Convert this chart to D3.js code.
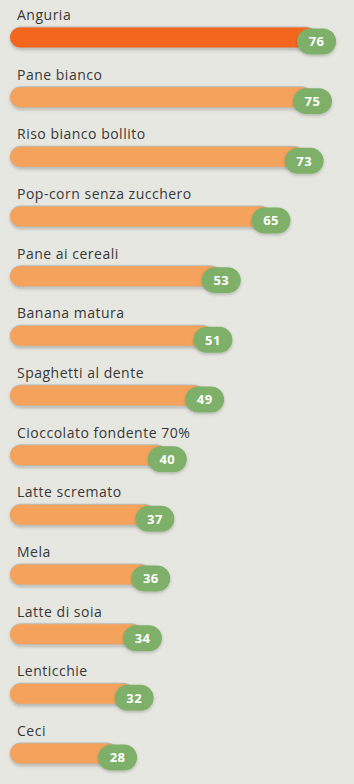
<!DOCTYPE html>
<html>
<head>
<meta charset="utf-8">
<script src="https://cdn.jsdelivr.net/npm/d3@7"></script>
<style>
  html, body { margin: 0; padding: 0; background: #e6e7e1; }
  svg { display: block; }
</style>
</head>
<body>
<div id="chart"></div>
<script>
// Indice glicemico degli alimenti
const foods = [
    "Anguria", "Pane bianco", "Riso bianco bollito", "Pop-corn senza zucchero",
    "Pane ai cereali", "Banana matura", "Spaghetti al dente", "Cioccolato fondente 70%",
    "Latte scremato", "Mela", "Latte di soia", "Lenticchie", "Ceci"
];
const values = [76, 75, 73, 65, 53, 51, 49, 40, 37, 36, 34, 32, 28];
const highlighted = ["Anguria"];

const width = 354;
const height = 784;
const rowStep = 59.67;

const svg = d3.select("#chart")
    .append("svg")
    .attr("width", width)
    .attr("height", height);

// soft shadow for bars and badges
const defs = svg.append("defs");
defs.append("filter")
    .attr("id", "shadow")
    .attr("x", "-20%").attr("y", "-50%")
    .attr("width", "140%").attr("height", "200%")
    .append("feDropShadow")
    .attr("dx", 0)
    .attr("dy", 1.5)
    .attr("stdDeviation", 1.5)
    .attr("flood-color", "#000")
    .attr("flood-opacity", 0.22);

const x = d3.scaleLinear()
    .domain([0, 100])
    .range([1.5, 416.1]);

const y = d3.scaleBand()
    .domain(foods)
    .range([0, foods.length * rowStep]);

const barLeft = 10;
const barH = 22;
const badgeW = 39;
const badgeH = 26;

const rows = svg.selectAll("g.row")
    .data(foods.map((f, i) => ({ food: f, value: values[i] })))
    .enter()
    .append("g")
    .attr("class", "row")
    .attr("transform", d => `translate(0, ${y(d.food)})`);

// labels
rows.append("text")
    .attr("x", 17)
    .attr("y", 20)
    .attr("fill", "#383838")
    .style("font-family", "'Open Sans', sans-serif")
    .style("font-size", "14px")
    .style("letter-spacing", "0.5px")
    .text(d => d.food);

// bar track (grey edge)
rows.append("rect")
    .attr("x", barLeft)
    .attr("y", 26.5)
    .attr("width", d => x(d.value) - barLeft)
    .attr("height", barH)
    .attr("rx", barH / 2)
    .attr("fill", "#babab2")
    .attr("filter", "url(#shadow)");

// bar fill
rows.append("rect")
    .attr("x", barLeft)
    .attr("y", 27.5)
    .attr("width", d => x(d.value) - barLeft)
    .attr("height", barH - 2)
    .attr("rx", (barH - 2) / 2)
    .attr("fill", d => highlighted.includes(d.food) ? "#f3661e" : "#f5a35c");

// value badge
rows.append("rect")
    .attr("x", d => x(d.value) - badgeW / 2)
    .attr("y", 28.5)
    .attr("width", badgeW)
    .attr("height", badgeH)
    .attr("rx", badgeH / 2)
    .attr("fill", "#7eb069")
    .attr("filter", "url(#shadow)");

rows.append("text")
    .attr("x", d => x(d.value))
    .attr("y", 28.5 + badgeH / 2)
    .attr("dy", "0.36em")
    .attr("text-anchor", "middle")
    .attr("fill", "#ffffff")
    .style("font-family", "'Open Sans', sans-serif")
    .style("font-weight", "bold")
    .style("font-size", "13px")
    .style("letter-spacing", "0.4px")
    .text(d => d.value);
</script>
</body>
</html>
